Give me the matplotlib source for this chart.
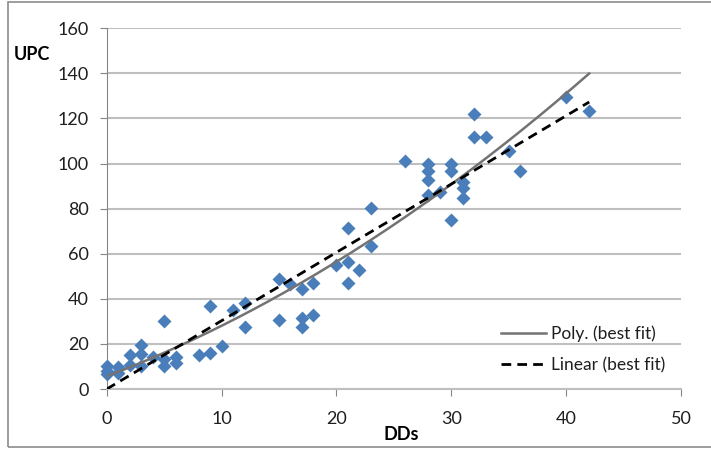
import numpy as np
import matplotlib
matplotlib.use("Agg")
import matplotlib.pyplot as plt
from matplotlib.patches import Rectangle

plt.rcParams['font.family'] = ['Lato', 'DejaVu Sans']

# DDs vs UPC
dds = [0, 0, 0, 1, 1, 2, 2, 3, 3, 3, 4, 5, 5, 5, 6, 6, 8, 9, 9, 10,
       11, 12, 12, 15, 15, 16, 17, 17, 17, 18, 18, 20, 21, 21, 21, 22,
       23, 23, 26, 28, 28, 28, 28, 29, 30, 30, 30, 31, 31, 31, 32, 32,
       33, 35, 36, 40, 42]
upc = [6.5, 8, 10, 9.7, 7, 15, 10.6, 19.6, 15.7, 10.1, 14.4, 30, 13.5, 10.1, 14.3, 11.6, 15, 36.7, 16, 19.3,
       35, 38, 27.5, 49, 30.8, 46.7, 44.5, 31.7, 27.4, 47, 32.7, 55, 71.5, 56.3, 47, 53,
       80.5, 63.5, 101, 100, 96.8, 92.8, 86.2, 87.6, 100, 96.8, 75, 91.9, 89, 84.7, 122, 111.8,
       112, 105.5, 96.5, 129.5, 123.5]

x_ticks = [0, 10, 20, 30, 40, 50]
y_ticks = [0, 20, 40, 60, 80, 100, 120, 140, 160]

x = np.array(dds, dtype=float)
y = np.array(upc, dtype=float)

fig = plt.figure(figsize=(7.11, 4.49), dpi=100)
ax = fig.add_axes([0.150, 0.1336, 0.808, 0.8034])

# outer chart frame (right edge runs off the picture)
fig.patches.append(Rectangle((8/711, 1-447/449), 1.0, (447-2)/449,
                             transform=fig.transFigure, fill=False,
                             edgecolor='#8c8c8c', lw=1.2))

ax.set_xlim(0, 50)
ax.set_ylim(0, 160)
ax.set_xticks(x_ticks)
ax.set_yticks(y_ticks)
ax.grid(axis='y', color='#bfbfbf', lw=1.5)
ax.set_axisbelow(True)

for s in ['top', 'right']:
    ax.spines[s].set_visible(False)
ax.spines['left'].set_color('#868686')
ax.spines['bottom'].set_color('#bfbfbf')
ax.spines['bottom'].set_linewidth(1.5)
ax.tick_params(axis='both', colors='#868686', labelcolor='#1f1f1f',
               labelsize=13, length=5)
ax.tick_params(axis='y', pad=8)
ax.tick_params(axis='x', pad=11)

ax.plot(x, y, 'D', color='#4a7ebb', ms=7, mec='none', clip_on=False, zorder=3)

xf = np.linspace(0, x.max(), 200)
p2 = np.polyfit(x, y, 2)
p1 = np.polyfit(x, y, 1)
ax.plot(xf, np.polyval(p2, xf), color='#737373', lw=1.8, label='Poly. (best fit)', zorder=4)
ax.plot(xf, np.polyval(p1, xf), color='black', lw=2, ls=(0, (3.5, 2.2)),
        label='Linear (best fit)', zorder=4)

ax.legend(frameon=False, loc='lower right', bbox_to_anchor=(1.0, 0.0),
          fontsize=12.5, handlelength=2.6, handletextpad=0.3,
          labelspacing=0.9, labelcolor='#1f1f1f')

fig.text(32/711, 1-54/449, 'UPC', fontsize=13, fontweight='bold',
         ha='center', va='center')
fig.text(401/711, 1-434/449, 'DDs', fontsize=13, fontweight='bold',
         ha='center', va='center')

fig.savefig('out.png', dpi=100)
